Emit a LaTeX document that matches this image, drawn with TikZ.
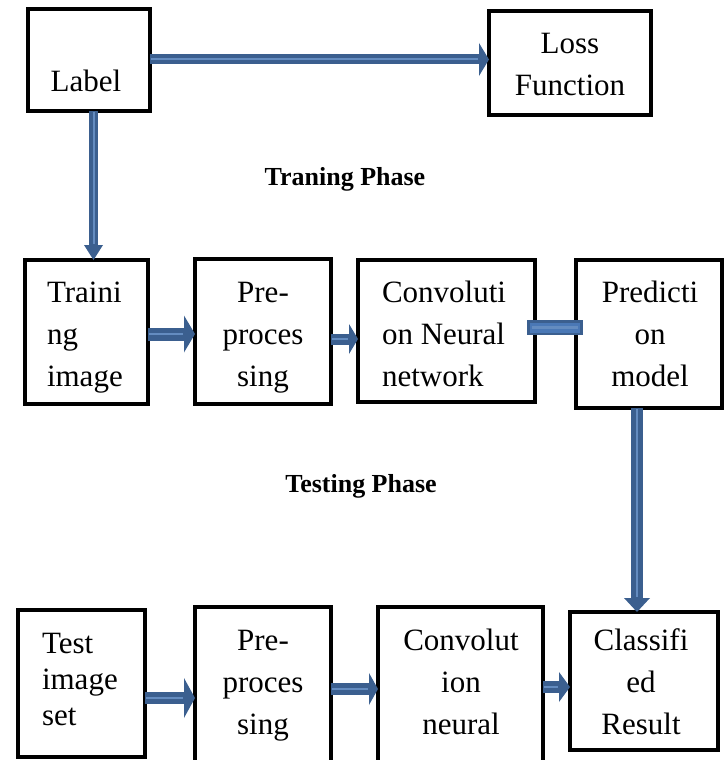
\documentclass[tikz,border=0pt]{standalone}
\usepackage{fontspec}
\setmainfont{Liberation Serif}
\usetikzlibrary{arrows.meta}
\definecolor{adark}{RGB}{59,95,143}
\definecolor{alight}{RGB}{100,140,192}
\definecolor{abar}{RGB}{74,120,182}
\newcommand{\mlines}[2]{\begin{tabular}[t]{@{}#1@{}}#2\end{tabular}}
% #1 from, #2 to, #3 shaft width, #4 head width, #5 head length
\newcommand{\blockarr}[5]{%
  \draw[adark, line width=#3pt, -{Triangle[width=#4pt,length=#5pt,line width=0pt]}] #1 -- #2;
  \draw[alight, line width=2pt, shorten >=#5pt+1pt, shorten <=1pt] #1 -- #2;}
\tikzset{
  box/.style={draw, line width=4pt, inner sep=0pt, outer sep=0pt},
  txt/.style={inner sep=0pt, outer sep=0pt, font=\fontsize{31}{42}\selectfont},
  txtb/.style={inner sep=0pt, outer sep=0pt, font=\fontsize{31}{36}\selectfont},
  phase/.style={inner sep=0pt, outer sep=0pt, font=\fontsize{26}{30}\selectfont\bfseries},
}
\begin{document}
\begin{tikzpicture}[x=1pt,y=-1pt]
\useasboundingbox (0,0) rectangle (725,760);
\clip (0,0) rectangle (725,760);
% boxes
\node[box, minimum width=122, minimum height=102] (label) at (89,60) {};
\node[box, minimum width=162, minimum height=104] (loss) at (570,63) {};
\node[box, minimum width=123, minimum height=144] (train) at (86.5,332) {};
\node[box, minimum width=136, minimum height=145] (pre) at (263,331.5) {};
\node[box, minimum width=177, minimum height=142] (conv) at (446.5,331) {};
\node[box, minimum width=146, minimum height=148] (pred) at (649,334) {};
\node[box, minimum width=127, minimum height=147] (test) at (81.5,683.5) {};
\node[box, minimum width=136, minimum height=173] (preb) at (263,693.5) {};
\node[box, minimum width=165, minimum height=173] (convb) at (460.5,693.5) {};
\node[box, minimum width=148, minimum height=138] (cls) at (644,681) {};
% texts
\node[txt, anchor=base] (labelT) at (86,92) {Label};
\node[txt, anchor=base] (lossT) at (570,53) {\mlines{c}{Loss\\Function}};
\node[phase, anchor=base] (trainph) at (345,185) {Traning Phase};
\node[phase, anchor=base] (testph) at (361,492) {Testing Phase};
\node[txt, anchor=base west] (trainT) at (47,302) {\mlines{l}{Traini\\ng\\image}};
\node[txt, anchor=base] (preT) at (263,302) {\mlines{c}{Pre-\\proces\\sing}};
\node[txt, anchor=base west] (convT) at (382,302) {\mlines{l}{Convoluti\\on Neural\\network}};
\node[txt, anchor=base] (predT) at (650,302) {\mlines{c}{Predicti\\on\\model}};
\node[txtb, anchor=base west] (testT) at (42,653) {\mlines{l}{Test\\image\\set}};
\node[txt, anchor=base] (prebT) at (263,650) {\mlines{c}{Pre-\\proces\\sing}};
\node[txt, anchor=base] (convbT) at (461,650) {\mlines{c}{Convolut\\ion\\neural}};
\node[txt, anchor=base] (clsT) at (641,650) {\mlines{c}{Classifi\\ed\\Result}};
% arrows
\blockarr{([yshift=0.5pt]label.east)}{([yshift=0.5pt]label.east -| loss.west)}{10}{33}{10}
\blockarr{([xshift=4.5pt]label.south)}{([xshift=4.5pt]label.south |- train.north)}{9}{19}{15}
\blockarr{([yshift=-2pt]train.east)}{([yshift=-2pt]train.east -| pre.west)}{13}{37}{11}
\blockarr{([yshift=-7.5pt]pre.east)}{([yshift=-7.5pt]pre.east -| conv.west)}{11}{30}{9}
\blockarr{([xshift=-12pt]pred.south)}{([xshift=-12pt]pred.south |- cls.north)}{12}{26}{14}
\blockarr{([yshift=-14.5pt]test.east)}{([yshift=-14.5pt]test.east -| preb.west)}{12}{40}{11}
\blockarr{([yshift=4.5pt]preb.east)}{([yshift=4.5pt]preb.east -| convb.west)}{12}{32}{9}
\blockarr{([yshift=6.5pt]convb.east)}{([yshift=6.5pt]convb.east -| cls.west)}{12}{30}{11}
% bar between conv and pred (no head)
\coordinate (barA) at ([xshift=-8pt,yshift=3.5pt]conv.east);
\coordinate (barB) at (barA -| pred.west);
\draw[adark, line width=15pt] (barA) -- ([xshift=7pt]barB);
\draw[abar, line width=10pt, shorten <=3pt, shorten >=3pt] (barA) -- ([xshift=7pt]barB);
\draw[alight, line width=3pt, shorten <=5pt, shorten >=5pt] (barA) -- ([xshift=7pt]barB);
\end{tikzpicture}
\end{document}
